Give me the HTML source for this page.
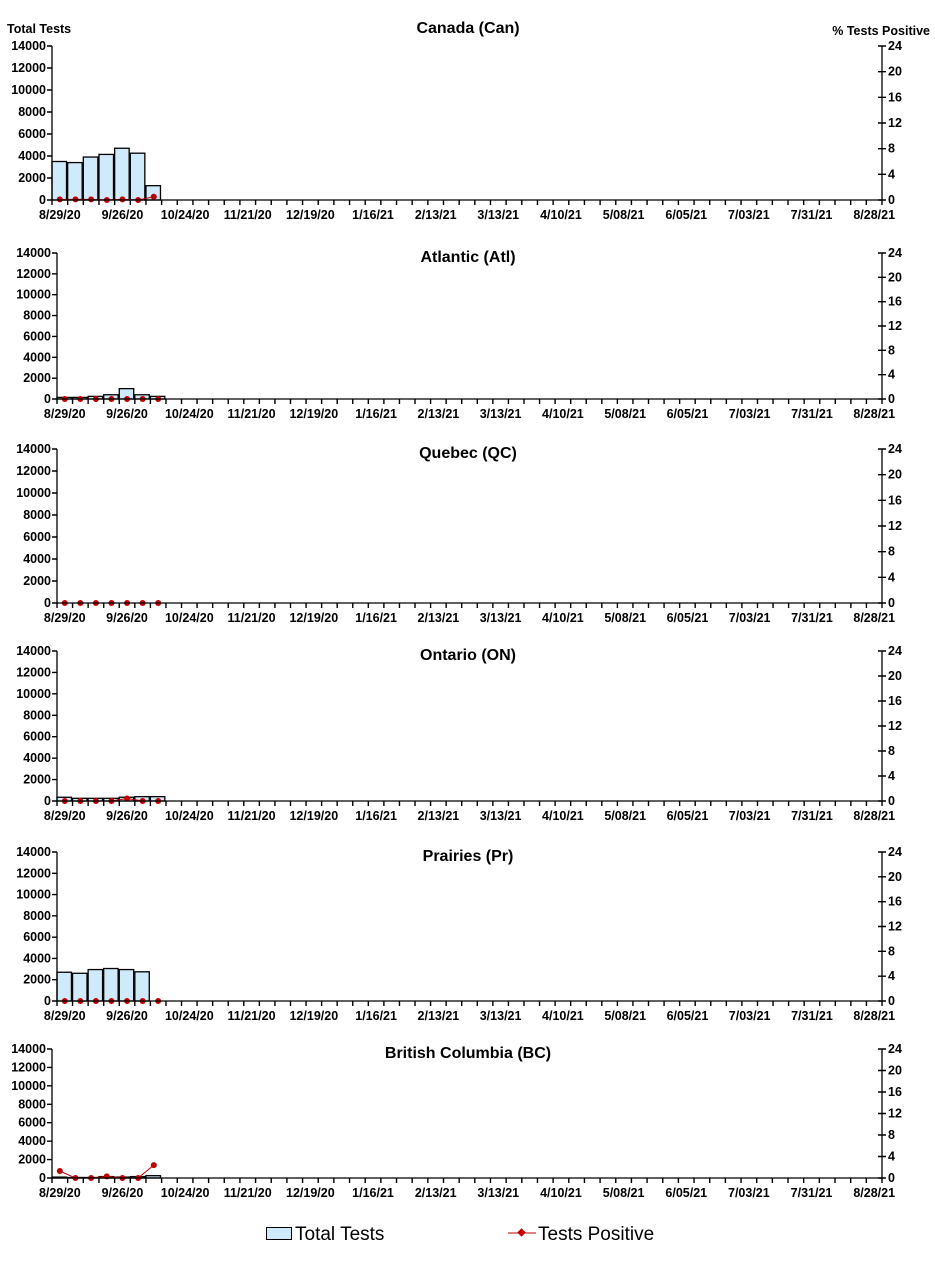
<!DOCTYPE html>
<html><head><meta charset="utf-8"><style>
body{margin:0;background:#fff}
svg{font-family:"Liberation Sans",Arial,sans-serif;font-weight:bold}
.t{font-size:12.5px}
.ti{font-size:16px}
.bar{fill:#cfeafb;stroke:#000;stroke-width:1.3}
.ax{stroke:#000;stroke-width:1.3;fill:none}
.tk{stroke:#000;fill:none}
.rl{stroke:#c00000;stroke-width:1}
.mk{fill:#c00000}
</style></head><body>
<svg width="935" height="1256" xmlns="http://www.w3.org/2000/svg">
<rect width="935" height="1256" fill="#fff"/>
<text x="7" y="33" class="t">Total Tests</text>
<text x="930" y="35" class="t" text-anchor="end">% Tests  Positive</text>

<!-- Panel 1 Canada -->
<text x="468" y="33" class="ti" text-anchor="middle">Canada (Can)</text>
<svg x="52" y="46" width="830" height="154" overflow="visible">
<rect class="bar" x="0%" y="75%" width="1.75%" height="25%"/>
<rect class="bar" x="1.887%" y="75.7%" width="1.75%" height="24.3%"/>
<rect class="bar" x="3.774%" y="72.1%" width="1.75%" height="27.9%"/>
<rect class="bar" x="5.66%" y="70.4%" width="1.75%" height="29.6%"/>
<rect class="bar" x="7.547%" y="66.4%" width="1.75%" height="33.6%"/>
<rect class="bar" x="9.434%" y="69.6%" width="1.75%" height="30.4%"/>
<rect class="bar" x="11.32%" y="90.7%" width="1.75%" height="9.3%"/>
<line class="rl" x1="0.943%" y1="99.6%" x2="2.83%" y2="99.6%"/><line class="rl" x1="2.83%" y1="99.6%" x2="4.717%" y2="99.6%"/><line class="rl" x1="4.717%" y1="99.6%" x2="6.604%" y2="100%"/><line class="rl" x1="6.604%" y1="100%" x2="8.49%" y2="99.6%"/><line class="rl" x1="8.49%" y1="99.6%" x2="10.377%" y2="100%"/><line class="rl" x1="10.377%" y1="100%" x2="12.264%" y2="97.9%"/>
<circle class="mk" cx="0.943%" cy="99.6%" r="3"/><circle class="mk" cx="2.83%" cy="99.6%" r="3"/><circle class="mk" cx="4.717%" cy="99.6%" r="3"/><circle class="mk" cx="6.604%" cy="100%" r="3"/><circle class="mk" cx="8.49%" cy="99.6%" r="3"/><circle class="mk" cx="10.377%" cy="100%" r="3"/><circle class="mk" cx="12.264%" cy="97.9%" r="3"/>
<line class="ax" x1="0" y1="0" x2="0" y2="154"/><line class="ax" x1="830" y1="0" x2="830" y2="154"/><line class="ax" x1="0" y1="154" x2="830" y2="154"/>
<line class="tk" x1="-2.5" y1="-0.7" x2="-2.5" y2="155" style="stroke-width:5;stroke-dasharray:1.4 20.6"/>
<line class="tk" x1="830" y1="-0.7" x2="830" y2="155" style="stroke-width:8;stroke-dasharray:1.4 24.267"/>
<line class="tk" x1="-0.7" y1="156.5" x2="831" y2="156.5" style="stroke-width:5;stroke-dasharray:1.4 14.26"/>
<g class="t" text-anchor="end"><text x="-6" y="100%" dy="4">0</text><text x="-6" y="85.714%" dy="4">2000</text><text x="-6" y="71.43%" dy="4">4000</text><text x="-6" y="57.14%" dy="4">6000</text><text x="-6" y="42.86%" dy="4">8000</text><text x="-6" y="28.57%" dy="4">10000</text><text x="-6" y="14.29%" dy="4">12000</text><text x="-6" y="0%" dy="4">14000</text></g>
<g class="t"><text x="836" y="100%" dy="4">0</text><text x="836" y="83.33%" dy="4">4</text><text x="836" y="66.67%" dy="4">8</text><text x="836" y="50%" dy="4">12</text><text x="836" y="33.33%" dy="4">16</text><text x="836" y="16.67%" dy="4">20</text><text x="836" y="0%" dy="4">24</text></g>
<g class="t" text-anchor="middle"><text x="0.943%" y="100%" dy="19">8/29/20</text><text x="8.49%" y="100%" dy="19">9/26/20</text><text x="16.04%" y="100%" dy="19">10/24/20</text><text x="23.58%" y="100%" dy="19">11/21/20</text><text x="31.13%" y="100%" dy="19">12/19/20</text><text x="38.68%" y="100%" dy="19">1/16/21</text><text x="46.23%" y="100%" dy="19">2/13/21</text><text x="53.77%" y="100%" dy="19">3/13/21</text><text x="61.32%" y="100%" dy="19">4/10/21</text><text x="68.87%" y="100%" dy="19">5/08/21</text><text x="76.42%" y="100%" dy="19">6/05/21</text><text x="83.96%" y="100%" dy="19">7/03/21</text><text x="91.51%" y="100%" dy="19">7/31/21</text><text x="99.06%" y="100%" dy="19">8/28/21</text></g>
</svg>

<!-- Panel 2 Atlantic -->
<text x="468" y="262" class="ti" text-anchor="middle">Atlantic (Atl)</text>
<svg x="57" y="253" width="825" height="146" overflow="visible">
<rect class="bar" x="0%" y="98.9%" width="1.75%" height="1.1%"/>
<rect class="bar" x="1.887%" y="98.9%" width="1.75%" height="1.1%"/>
<rect class="bar" x="3.774%" y="98.2%" width="1.75%" height="1.8%"/>
<rect class="bar" x="5.66%" y="97.1%" width="1.75%" height="2.9%"/>
<rect class="bar" x="7.547%" y="92.9%" width="1.75%" height="7.1%"/>
<rect class="bar" x="9.434%" y="97.1%" width="1.75%" height="2.9%"/>
<rect class="bar" x="11.32%" y="98.2%" width="1.75%" height="1.8%"/>
<line class="rl" x1="0.943%" y1="100%" x2="12.264%" y2="100%"/>
<circle class="mk" cx="0.943%" cy="100%" r="3"/><circle class="mk" cx="2.83%" cy="100%" r="3"/><circle class="mk" cx="4.717%" cy="100%" r="3"/><circle class="mk" cx="6.604%" cy="100%" r="3"/><circle class="mk" cx="8.49%" cy="100%" r="3"/><circle class="mk" cx="10.377%" cy="100%" r="3"/><circle class="mk" cx="12.264%" cy="100%" r="3"/>
<line class="ax" x1="0" y1="0" x2="0" y2="146"/><line class="ax" x1="825" y1="0" x2="825" y2="146"/><line class="ax" x1="0" y1="146" x2="825" y2="146"/>
<line class="tk" x1="-2.5" y1="-0.7" x2="-2.5" y2="147" style="stroke-width:5;stroke-dasharray:1.4 19.457"/>
<line class="tk" x1="825" y1="-0.7" x2="825" y2="147" style="stroke-width:8;stroke-dasharray:1.4 22.933"/>
<line class="tk" x1="-0.7" y1="148.5" x2="826" y2="148.5" style="stroke-width:5;stroke-dasharray:1.4 14.166"/>
<g class="t" text-anchor="end"><text x="-6" y="100%" dy="4">0</text><text x="-6" y="85.714%" dy="4">2000</text><text x="-6" y="71.43%" dy="4">4000</text><text x="-6" y="57.14%" dy="4">6000</text><text x="-6" y="42.86%" dy="4">8000</text><text x="-6" y="28.57%" dy="4">10000</text><text x="-6" y="14.29%" dy="4">12000</text><text x="-6" y="0%" dy="4">14000</text></g>
<g class="t"><text x="831" y="100%" dy="4">0</text><text x="831" y="83.33%" dy="4">4</text><text x="831" y="66.67%" dy="4">8</text><text x="831" y="50%" dy="4">12</text><text x="831" y="33.33%" dy="4">16</text><text x="831" y="16.67%" dy="4">20</text><text x="831" y="0%" dy="4">24</text></g>
<g class="t" text-anchor="middle"><text x="0.943%" y="100%" dy="19">8/29/20</text><text x="8.49%" y="100%" dy="19">9/26/20</text><text x="16.04%" y="100%" dy="19">10/24/20</text><text x="23.58%" y="100%" dy="19">11/21/20</text><text x="31.13%" y="100%" dy="19">12/19/20</text><text x="38.68%" y="100%" dy="19">1/16/21</text><text x="46.23%" y="100%" dy="19">2/13/21</text><text x="53.77%" y="100%" dy="19">3/13/21</text><text x="61.32%" y="100%" dy="19">4/10/21</text><text x="68.87%" y="100%" dy="19">5/08/21</text><text x="76.42%" y="100%" dy="19">6/05/21</text><text x="83.96%" y="100%" dy="19">7/03/21</text><text x="91.51%" y="100%" dy="19">7/31/21</text><text x="99.06%" y="100%" dy="19">8/28/21</text></g>
</svg>

<!-- Panel 3 Quebec -->
<text x="468" y="458" class="ti" text-anchor="middle">Quebec (QC)</text>
<svg x="57" y="449" width="825" height="154" overflow="visible">
<line class="rl" x1="0.943%" y1="100%" x2="12.264%" y2="100%"/>
<circle class="mk" cx="0.943%" cy="100%" r="3"/><circle class="mk" cx="2.83%" cy="100%" r="3"/><circle class="mk" cx="4.717%" cy="100%" r="3"/><circle class="mk" cx="6.604%" cy="100%" r="3"/><circle class="mk" cx="8.49%" cy="100%" r="3"/><circle class="mk" cx="10.377%" cy="100%" r="3"/><circle class="mk" cx="12.264%" cy="100%" r="3"/>
<line class="ax" x1="0" y1="0" x2="0" y2="154"/><line class="ax" x1="825" y1="0" x2="825" y2="154"/><line class="ax" x1="0" y1="154" x2="825" y2="154"/>
<line class="tk" x1="-2.5" y1="-0.7" x2="-2.5" y2="155" style="stroke-width:5;stroke-dasharray:1.4 20.6"/>
<line class="tk" x1="825" y1="-0.7" x2="825" y2="155" style="stroke-width:8;stroke-dasharray:1.4 24.267"/>
<line class="tk" x1="-0.7" y1="156.5" x2="826" y2="156.5" style="stroke-width:5;stroke-dasharray:1.4 14.166"/>
<g class="t" text-anchor="end"><text x="-6" y="100%" dy="4">0</text><text x="-6" y="85.714%" dy="4">2000</text><text x="-6" y="71.43%" dy="4">4000</text><text x="-6" y="57.14%" dy="4">6000</text><text x="-6" y="42.86%" dy="4">8000</text><text x="-6" y="28.57%" dy="4">10000</text><text x="-6" y="14.29%" dy="4">12000</text><text x="-6" y="0%" dy="4">14000</text></g>
<g class="t"><text x="831" y="100%" dy="4">0</text><text x="831" y="83.33%" dy="4">4</text><text x="831" y="66.67%" dy="4">8</text><text x="831" y="50%" dy="4">12</text><text x="831" y="33.33%" dy="4">16</text><text x="831" y="16.67%" dy="4">20</text><text x="831" y="0%" dy="4">24</text></g>
<g class="t" text-anchor="middle"><text x="0.943%" y="100%" dy="19">8/29/20</text><text x="8.49%" y="100%" dy="19">9/26/20</text><text x="16.04%" y="100%" dy="19">10/24/20</text><text x="23.58%" y="100%" dy="19">11/21/20</text><text x="31.13%" y="100%" dy="19">12/19/20</text><text x="38.68%" y="100%" dy="19">1/16/21</text><text x="46.23%" y="100%" dy="19">2/13/21</text><text x="53.77%" y="100%" dy="19">3/13/21</text><text x="61.32%" y="100%" dy="19">4/10/21</text><text x="68.87%" y="100%" dy="19">5/08/21</text><text x="76.42%" y="100%" dy="19">6/05/21</text><text x="83.96%" y="100%" dy="19">7/03/21</text><text x="91.51%" y="100%" dy="19">7/31/21</text><text x="99.06%" y="100%" dy="19">8/28/21</text></g>
</svg>

<!-- Panel 4 Ontario -->
<text x="468" y="660" class="ti" text-anchor="middle">Ontario (ON)</text>
<svg x="57" y="651" width="825" height="150" overflow="visible">
<rect class="bar" x="0%" y="97.5%" width="1.75%" height="2.5%"/>
<rect class="bar" x="1.887%" y="98.2%" width="1.75%" height="1.8%"/>
<rect class="bar" x="3.774%" y="98.2%" width="1.75%" height="1.8%"/>
<rect class="bar" x="5.66%" y="98.2%" width="1.75%" height="1.8%"/>
<rect class="bar" x="7.547%" y="97.5%" width="1.75%" height="2.5%"/>
<rect class="bar" x="9.434%" y="97.1%" width="1.75%" height="2.9%"/>
<rect class="bar" x="11.32%" y="97.1%" width="1.75%" height="2.9%"/>
<line class="rl" x1="0.943%" y1="100%" x2="6.604%" y2="100%"/><line class="rl" x1="6.604%" y1="100%" x2="8.49%" y2="98.3%"/><line class="rl" x1="8.49%" y1="98.3%" x2="10.377%" y2="100%"/><line class="rl" x1="10.377%" y1="100%" x2="12.264%" y2="100%"/>
<circle class="mk" cx="0.943%" cy="100%" r="3"/><circle class="mk" cx="2.83%" cy="100%" r="3"/><circle class="mk" cx="4.717%" cy="100%" r="3"/><circle class="mk" cx="6.604%" cy="100%" r="3"/><circle class="mk" cx="8.49%" cy="98.3%" r="3"/><circle class="mk" cx="10.377%" cy="100%" r="3"/><circle class="mk" cx="12.264%" cy="100%" r="3"/>
<line class="ax" x1="0" y1="0" x2="0" y2="150"/><line class="ax" x1="825" y1="0" x2="825" y2="150"/><line class="ax" x1="0" y1="150" x2="825" y2="150"/>
<line class="tk" x1="-2.5" y1="-0.7" x2="-2.5" y2="151" style="stroke-width:5;stroke-dasharray:1.4 20.03"/>
<line class="tk" x1="825" y1="-0.7" x2="825" y2="151" style="stroke-width:8;stroke-dasharray:1.4 23.6"/>
<line class="tk" x1="-0.7" y1="152.5" x2="826" y2="152.5" style="stroke-width:5;stroke-dasharray:1.4 14.166"/>
<g class="t" text-anchor="end"><text x="-6" y="100%" dy="4">0</text><text x="-6" y="85.714%" dy="4">2000</text><text x="-6" y="71.43%" dy="4">4000</text><text x="-6" y="57.14%" dy="4">6000</text><text x="-6" y="42.86%" dy="4">8000</text><text x="-6" y="28.57%" dy="4">10000</text><text x="-6" y="14.29%" dy="4">12000</text><text x="-6" y="0%" dy="4">14000</text></g>
<g class="t"><text x="831" y="100%" dy="4">0</text><text x="831" y="83.33%" dy="4">4</text><text x="831" y="66.67%" dy="4">8</text><text x="831" y="50%" dy="4">12</text><text x="831" y="33.33%" dy="4">16</text><text x="831" y="16.67%" dy="4">20</text><text x="831" y="0%" dy="4">24</text></g>
<g class="t" text-anchor="middle"><text x="0.943%" y="100%" dy="19">8/29/20</text><text x="8.49%" y="100%" dy="19">9/26/20</text><text x="16.04%" y="100%" dy="19">10/24/20</text><text x="23.58%" y="100%" dy="19">11/21/20</text><text x="31.13%" y="100%" dy="19">12/19/20</text><text x="38.68%" y="100%" dy="19">1/16/21</text><text x="46.23%" y="100%" dy="19">2/13/21</text><text x="53.77%" y="100%" dy="19">3/13/21</text><text x="61.32%" y="100%" dy="19">4/10/21</text><text x="68.87%" y="100%" dy="19">5/08/21</text><text x="76.42%" y="100%" dy="19">6/05/21</text><text x="83.96%" y="100%" dy="19">7/03/21</text><text x="91.51%" y="100%" dy="19">7/31/21</text><text x="99.06%" y="100%" dy="19">8/28/21</text></g>
</svg>

<!-- Panel 5 Prairies -->
<text x="468" y="861" class="ti" text-anchor="middle">Prairies (Pr)</text>
<svg x="57" y="852" width="825" height="149" overflow="visible">
<rect class="bar" x="0%" y="80.7%" width="1.75%" height="19.3%"/>
<rect class="bar" x="1.887%" y="81.4%" width="1.75%" height="18.6%"/>
<rect class="bar" x="3.774%" y="78.9%" width="1.75%" height="21.1%"/>
<rect class="bar" x="5.66%" y="78.2%" width="1.75%" height="21.8%"/>
<rect class="bar" x="7.547%" y="78.9%" width="1.75%" height="21.1%"/>
<rect class="bar" x="9.434%" y="80.4%" width="1.75%" height="19.6%"/>
<line class="rl" x1="0.943%" y1="100%" x2="12.264%" y2="100%"/>
<circle class="mk" cx="0.943%" cy="100%" r="3"/><circle class="mk" cx="2.83%" cy="100%" r="3"/><circle class="mk" cx="4.717%" cy="100%" r="3"/><circle class="mk" cx="6.604%" cy="100%" r="3"/><circle class="mk" cx="8.49%" cy="100%" r="3"/><circle class="mk" cx="10.377%" cy="100%" r="3"/><circle class="mk" cx="12.264%" cy="100%" r="3"/>
<line class="ax" x1="0" y1="0" x2="0" y2="149"/><line class="ax" x1="825" y1="0" x2="825" y2="149"/><line class="ax" x1="0" y1="149" x2="825" y2="149"/>
<line class="tk" x1="-2.5" y1="-0.7" x2="-2.5" y2="150" style="stroke-width:5;stroke-dasharray:1.4 19.886"/>
<line class="tk" x1="825" y1="-0.7" x2="825" y2="150" style="stroke-width:8;stroke-dasharray:1.4 23.433"/>
<line class="tk" x1="-0.7" y1="151.5" x2="826" y2="151.5" style="stroke-width:5;stroke-dasharray:1.4 14.166"/>
<g class="t" text-anchor="end"><text x="-6" y="100%" dy="4">0</text><text x="-6" y="85.714%" dy="4">2000</text><text x="-6" y="71.43%" dy="4">4000</text><text x="-6" y="57.14%" dy="4">6000</text><text x="-6" y="42.86%" dy="4">8000</text><text x="-6" y="28.57%" dy="4">10000</text><text x="-6" y="14.29%" dy="4">12000</text><text x="-6" y="0%" dy="4">14000</text></g>
<g class="t"><text x="831" y="100%" dy="4">0</text><text x="831" y="83.33%" dy="4">4</text><text x="831" y="66.67%" dy="4">8</text><text x="831" y="50%" dy="4">12</text><text x="831" y="33.33%" dy="4">16</text><text x="831" y="16.67%" dy="4">20</text><text x="831" y="0%" dy="4">24</text></g>
<g class="t" text-anchor="middle"><text x="0.943%" y="100%" dy="19">8/29/20</text><text x="8.49%" y="100%" dy="19">9/26/20</text><text x="16.04%" y="100%" dy="19">10/24/20</text><text x="23.58%" y="100%" dy="19">11/21/20</text><text x="31.13%" y="100%" dy="19">12/19/20</text><text x="38.68%" y="100%" dy="19">1/16/21</text><text x="46.23%" y="100%" dy="19">2/13/21</text><text x="53.77%" y="100%" dy="19">3/13/21</text><text x="61.32%" y="100%" dy="19">4/10/21</text><text x="68.87%" y="100%" dy="19">5/08/21</text><text x="76.42%" y="100%" dy="19">6/05/21</text><text x="83.96%" y="100%" dy="19">7/03/21</text><text x="91.51%" y="100%" dy="19">7/31/21</text><text x="99.06%" y="100%" dy="19">8/28/21</text></g>
</svg>

<!-- Panel 6 BC -->
<text x="468" y="1058" class="ti" text-anchor="middle">British Columbia (BC)</text>
<svg x="52" y="1049" width="830" height="129" overflow="visible">
<rect class="bar" x="0%" y="99.3%" width="1.75%" height="0.7%"/>
<rect class="bar" x="1.887%" y="99.6%" width="1.75%" height="0.4%"/>
<rect class="bar" x="3.774%" y="99.6%" width="1.75%" height="0.4%"/>
<rect class="bar" x="5.66%" y="98.9%" width="1.75%" height="1.1%"/>
<rect class="bar" x="7.547%" y="99.3%" width="1.75%" height="0.7%"/>
<rect class="bar" x="9.434%" y="98.9%" width="1.75%" height="1.1%"/>
<rect class="bar" x="11.32%" y="98.2%" width="1.75%" height="1.8%"/>
<line class="rl" x1="0.943%" y1="94.6%" x2="2.83%" y2="100%"/><line class="rl" x1="2.83%" y1="100%" x2="4.717%" y2="100%"/><line class="rl" x1="4.717%" y1="100%" x2="6.604%" y2="98.75%"/><line class="rl" x1="6.604%" y1="98.75%" x2="8.49%" y2="100%"/><line class="rl" x1="8.49%" y1="100%" x2="10.377%" y2="100%"/><line class="rl" x1="10.377%" y1="100%" x2="12.264%" y2="90%"/>
<circle class="mk" cx="0.943%" cy="94.6%" r="3"/><circle class="mk" cx="2.83%" cy="100%" r="3"/><circle class="mk" cx="4.717%" cy="100%" r="3"/><circle class="mk" cx="6.604%" cy="98.75%" r="3"/><circle class="mk" cx="8.49%" cy="100%" r="3"/><circle class="mk" cx="10.377%" cy="100%" r="3"/><circle class="mk" cx="12.264%" cy="90%" r="3"/>
<line class="ax" x1="0" y1="0" x2="0" y2="129"/><line class="ax" x1="830" y1="0" x2="830" y2="129"/><line class="ax" x1="0" y1="129" x2="830" y2="129"/>
<line class="tk" x1="-2.5" y1="-0.7" x2="-2.5" y2="130" style="stroke-width:5;stroke-dasharray:1.4 17.03"/>
<line class="tk" x1="830" y1="-0.7" x2="830" y2="130" style="stroke-width:8;stroke-dasharray:1.4 20.1"/>
<line class="tk" x1="-0.7" y1="131.5" x2="831" y2="131.5" style="stroke-width:5;stroke-dasharray:1.4 14.26"/>
<g class="t" text-anchor="end"><text x="-6" y="100%" dy="4">0</text><text x="-6" y="85.714%" dy="4">2000</text><text x="-6" y="71.43%" dy="4">4000</text><text x="-6" y="57.14%" dy="4">6000</text><text x="-6" y="42.86%" dy="4">8000</text><text x="-6" y="28.57%" dy="4">10000</text><text x="-6" y="14.29%" dy="4">12000</text><text x="-6" y="0%" dy="4">14000</text></g>
<g class="t"><text x="836" y="100%" dy="4">0</text><text x="836" y="83.33%" dy="4">4</text><text x="836" y="66.67%" dy="4">8</text><text x="836" y="50%" dy="4">12</text><text x="836" y="33.33%" dy="4">16</text><text x="836" y="16.67%" dy="4">20</text><text x="836" y="0%" dy="4">24</text></g>
<g class="t" text-anchor="middle"><text x="0.943%" y="100%" dy="19">8/29/20</text><text x="8.49%" y="100%" dy="19">9/26/20</text><text x="16.04%" y="100%" dy="19">10/24/20</text><text x="23.58%" y="100%" dy="19">11/21/20</text><text x="31.13%" y="100%" dy="19">12/19/20</text><text x="38.68%" y="100%" dy="19">1/16/21</text><text x="46.23%" y="100%" dy="19">2/13/21</text><text x="53.77%" y="100%" dy="19">3/13/21</text><text x="61.32%" y="100%" dy="19">4/10/21</text><text x="68.87%" y="100%" dy="19">5/08/21</text><text x="76.42%" y="100%" dy="19">6/05/21</text><text x="83.96%" y="100%" dy="19">7/03/21</text><text x="91.51%" y="100%" dy="19">7/31/21</text><text x="99.06%" y="100%" dy="19">8/28/21</text></g>
</svg>

<!-- Legend -->
<rect x="266.5" y="1227.5" width="25" height="12" fill="#cfeafb" stroke="#000" stroke-width="1"/>
<text x="295" y="1240" font-size="19" font-weight="normal">Total Tests</text>
<line x1="508" y1="1233" x2="536" y2="1233" stroke="#c00000" stroke-width="1"/>
<rect x="518.5" y="1229.5" width="6" height="6" fill="#c00000" transform="rotate(45 521.5 1232.5)"/>
<text x="538" y="1240" font-size="19" font-weight="normal">Tests Positive</text>
</svg>
</body></html>
